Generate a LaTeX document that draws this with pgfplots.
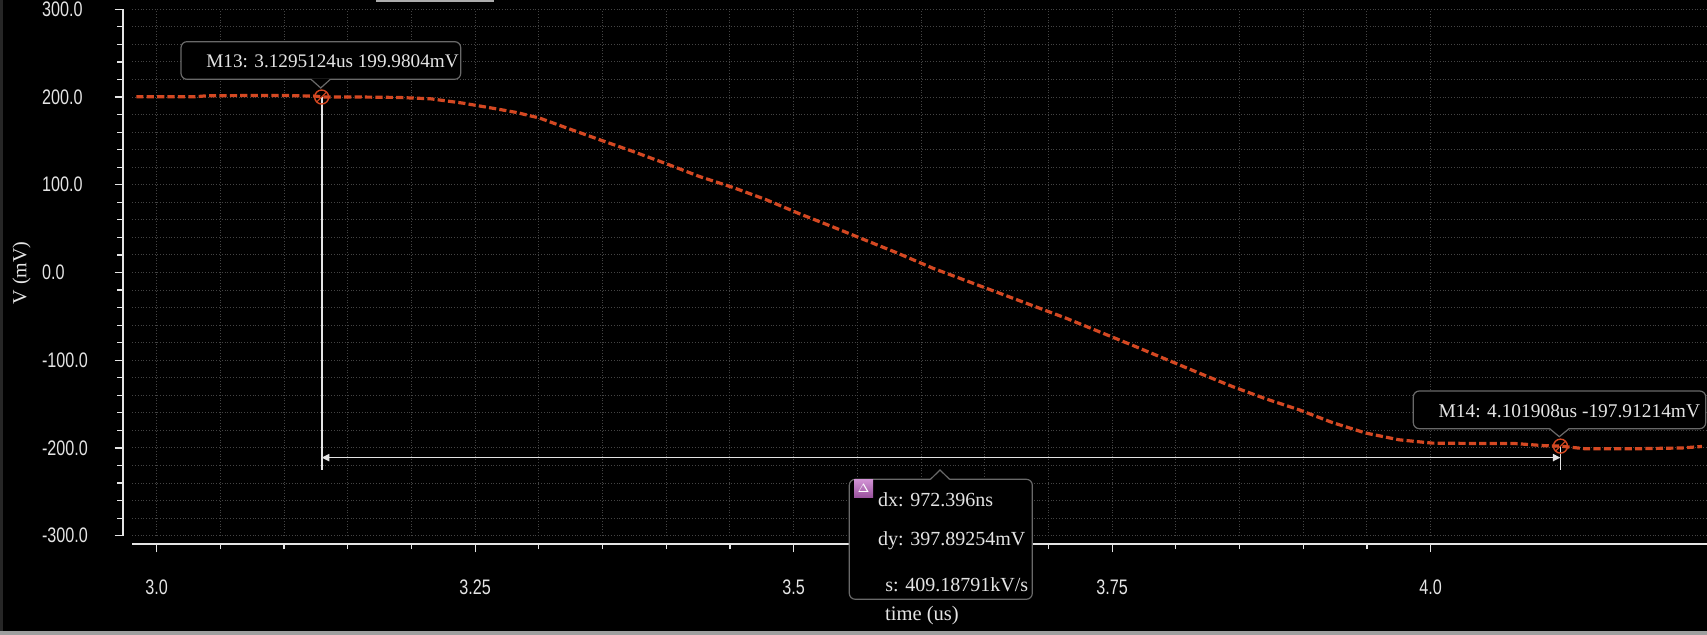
\documentclass[border=0pt]{standalone}
\usepackage{pgfplots}
\pgfplotsset{compat=1.18}
\usepackage{fontspec}
\setmainfont{Liberation Serif}
\newfontfamily\narrowfont[FakeStretch=0.77]{Liberation Sans}
\usetikzlibrary{arrows.meta}
\definecolor{curvec}{RGB}{212,72,34}
\definecolor{gridc}{RGB}{68,68,68}
\definecolor{axc}{RGB}{228,228,228}
\definecolor{boxc}{RGB}{105,105,105}
\definecolor{iconc}{RGB}{190,100,195}
\begin{document}
\begin{tikzpicture}
\fill[black] (0,0) rectangle (853.5pt,317.5pt);
\path[use as bounding box] (0,0) rectangle (853.5pt,317.5pt);
\begin{axis}[
  at={(66.15pt,49.65pt)}, anchor=south west,
  scale only axis, width=787.35pt, height=263.2pt,
  xmin=2.98085, xmax=4.2169, ymin=-300, ymax=300,
  clip=false,
  axis x line*=bottom, axis y line*=left,
  axis line style={-, axc, line width=1pt},
  every outer x axis line/.append style={-},
  every outer y axis line/.append style={-},
  x axis line style={yshift=-4.3pt},
  y axis line style={xshift=-4.8pt},
  xtick={3,3.25,3.5,3.75,4},
  xticklabels={3.0,3.25,3.5,3.75,4.0},
  ytick={-300,-200,-100,0,100,200,300},
  yticklabels={-300.0,-200.0,-100.0,0.0,100.0,200.0,300.0},
  minor x tick num=4, minor y tick num=4,
  tick align=outside,
  major tick length=4pt, minor tick length=2.6pt,
  xtick style={axc, line width=0.6pt, yshift=-4.3pt},
  ytick style={axc, line width=0.6pt, xshift=-4.8pt},
  grid=both,
  major grid style={densely dotted, gridc, line width=0.5pt},
  minor grid style={densely dotted, gridc, line width=0.5pt},
  xticklabel style={font=\narrowfont\fontsize{10.5}{12}\selectfont, text=axc, anchor=center, inner sep=0pt, yshift=-21.6pt},
  yticklabel style={font=\narrowfont\fontsize{10.5}{12}\selectfont, text=axc, anchor=west, inner sep=0pt, xshift=-41.3pt},
  xlabel={time (us)}, ylabel={V (mV)},
  every axis x label/.style={at={(axis description cs:0.5015,-0.152)}, anchor=center, font=\fontsize{10.3}{12}\selectfont, text=axc, inner sep=0pt},
  every axis y label/.style={at={(axis description cs:-0.07024,0.499)}, anchor=center, rotate=90, font=\fontsize{10}{12}\selectfont, text=axc, inner sep=0pt},
]
\addplot[curvec, line width=1.6pt, dash pattern=on 3.6pt off 1.6pt] coordinates {
(2.984,200.3) (3.03,200.3) (3.04,201.5) (3.10,201.8) (3.125,201) (3.13,200) (3.16,200) (3.19,199.5) (3.215,198)
(3.2405,193) (3.2667,186.5) (3.2824,182.4) (3.3006,176) (3.3242,163.5) (3.3503,150) (3.3738,138) (3.400,124)
(3.4261,109.4) (3.4522,97) (3.4784,83) (3.5045,67) (3.5307,52) (3.5569,36.5) (3.5804,22.8) (3.6091,5)
(3.6614,-23.5) (3.7137,-52) (3.766,-83) (3.8183,-114.7) (3.8444,-130) (3.8706,-144) (3.8967,-156.5)
(3.9228,-171) (3.949,-183) (3.9751,-190.7) (4.0013,-194.5) (4.0275,-194.8) (4.0667,-195) (4.0902,-197.5)
(4.1019,-197.9) (4.1216,-201) (4.158,-201) (4.1973,-200) (4.213,-198.3)
};
% marker guide lines
\draw[axc, line width=0.9pt] (axis cs:3.1295124,199.9804) -- (axis cs:3.1295124,-225);
\draw[axc, line width=0.9pt] (axis cs:4.101908,-197.91214) -- (axis cs:4.101908,-225);
\draw[axc, line width=0.8pt, {Triangle[length=3.8pt,width=3.6pt]}-{Triangle[length=3.8pt,width=3.6pt]}] (axis cs:3.1295124,-211) -- (axis cs:4.101908,-211);
% markers
\draw[curvec, line width=0.7pt] (axis cs:3.1295124,199.9804) circle[radius=3.5pt];
\draw[curvec, line width=0.5pt] (axis cs:3.1295124,199.9804) ++(-2.4pt,-2.4pt) -- ++(4.8pt,4.8pt) ++(-4.8pt,0) -- ++(4.8pt,-4.8pt);
\draw[curvec, line width=0.7pt] (axis cs:4.101908,-197.91214) circle[radius=3.5pt];
\draw[curvec, line width=0.5pt] (axis cs:4.101908,-197.91214) ++(-2.4pt,-2.4pt) -- ++(4.8pt,4.8pt) ++(-4.8pt,0) -- ++(4.8pt,-4.8pt);
\end{axis}
\begin{scope}[x=0.5pt,y=-0.5pt,shift={(0pt,317.5pt)}]
% window borders
\fill[gray!30!black] (0,0) rectangle (2.5,635);
\fill[gray!75] (0,631.5) rectangle (1707,635);
\draw[gray!65, line width=1pt] (377,-5) -- (377,1) -- (493,1) -- (493,-5);
% M13 box
\draw[boxc, line width=0.6pt, fill=black, rounded corners=3pt] (181,41.7) rectangle (460.7,79.3);
\fill[black] (311,78.6) -- (320.7,88) -- (330.4,78.6) -- cycle;
\draw[boxc, line width=0.6pt] (311,79.3) -- (320.7,88) -- (330.4,79.3);
\node[anchor=west, inner sep=0pt, text=axc, font=\fontsize{9.6}{11}\selectfont] at (206,61.7) {M13: 3.1295124us 199.9804mV};
% M14 box
\draw[boxc, line width=0.6pt, fill=black, rounded corners=3pt] (1413.3,391) rectangle (1705.7,428.7);
\fill[black] (1549.6,428) -- (1559.3,436.7) -- (1569,428) -- cycle;
\draw[boxc, line width=0.6pt] (1549.6,428.7) -- (1559.3,436.7) -- (1569,428.7);
\node[anchor=west, inner sep=0pt, text=axc, font=\fontsize{9.7}{11}\selectfont] at (1438.3,411) {M14: 4.101908us -197.91214mV};
% delta box
\draw[boxc, line width=0.6pt, fill=black, rounded corners=3pt] (849.3,479.3) rectangle (1032.3,599.3);
\fill[black] (930.5,480) -- (940,470) -- (949.5,480) -- cycle;
\draw[boxc, line width=0.6pt] (930.5,479.3) -- (940,470) -- (949.5,479.3);
\shade[top color=iconc!70!white, bottom color=iconc!80!black] (854,479.5) rectangle (873,498);
\node[text=white, inner sep=0pt, font=\fontsize{6}{7}\selectfont] at (863.5,488.5) {$\Delta$};
\node[anchor=west, inner sep=0pt, text=axc, font=\fontsize{10}{12}\selectfont] at (877.7,500) {dx: 972.396ns};
\node[anchor=west, inner sep=0pt, text=axc, font=\fontsize{10}{12}\selectfont] at (877.7,541) {dy: 397.89254mV};
\node[anchor=west, inner sep=0pt, text=axc, font=\fontsize{10}{12}\selectfont] at (885,585) {s: 409.18791kV/s};
\end{scope}
\end{tikzpicture}
\end{document}
